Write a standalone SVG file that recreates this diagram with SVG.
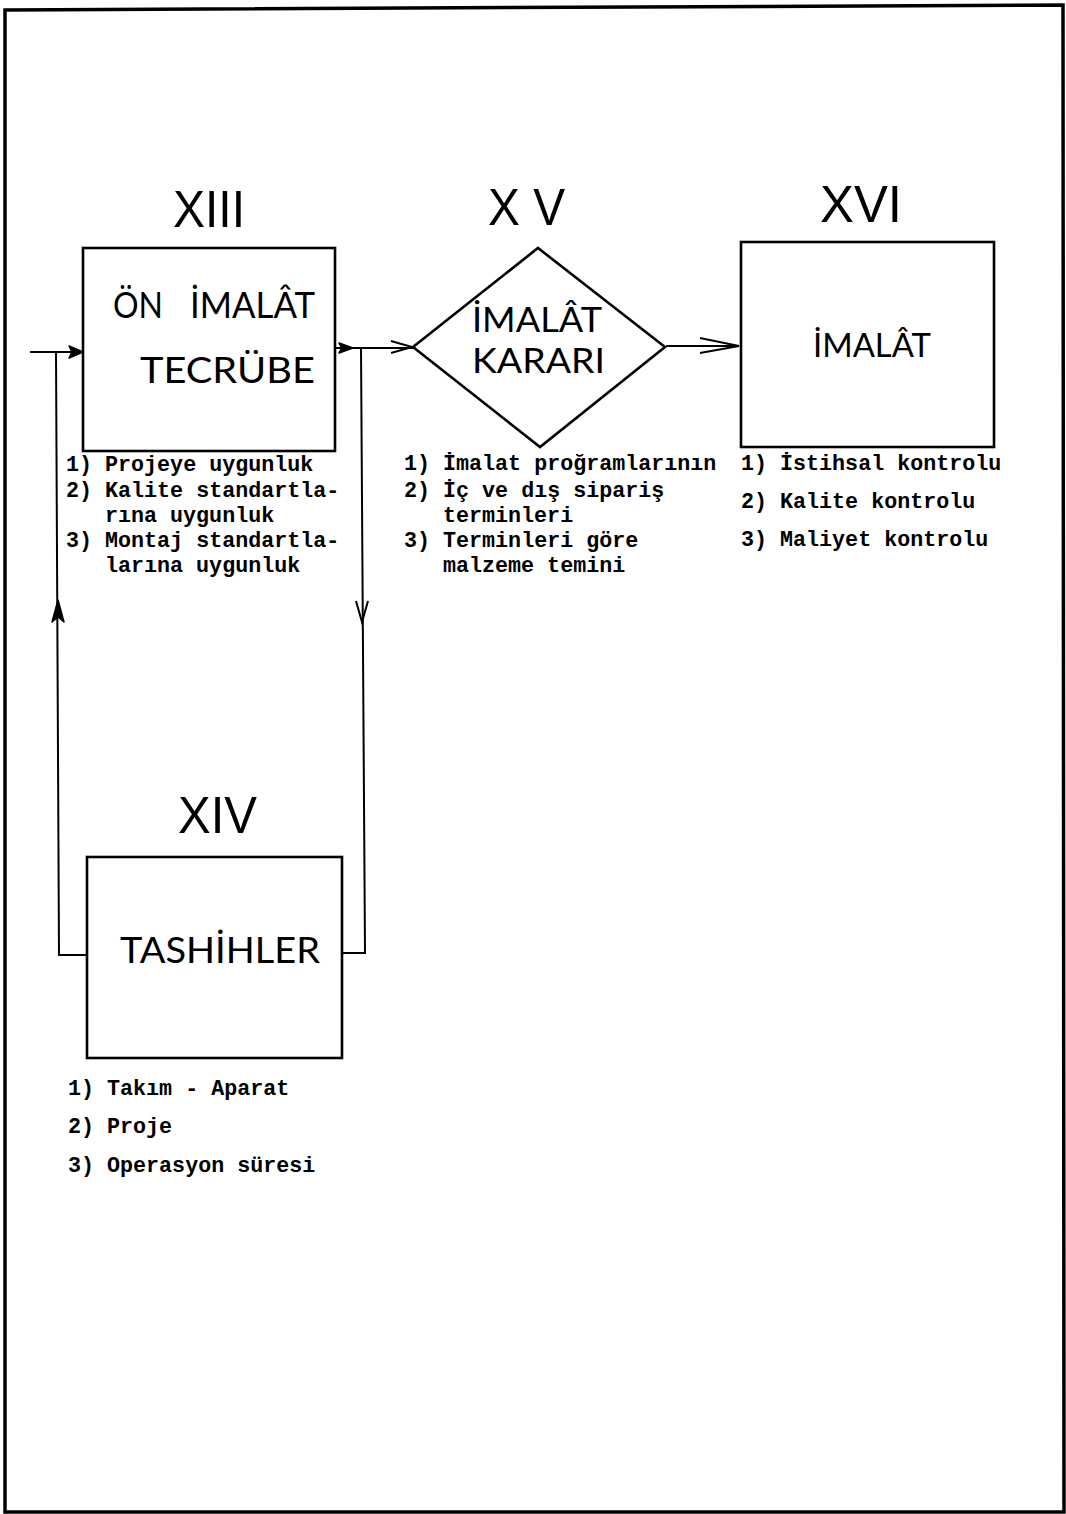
<svg xmlns="http://www.w3.org/2000/svg" width="1066" height="1514" viewBox="0 0 1066 1514">
<style>
.frame{fill:none;stroke:#000;stroke-width:3.5}
.box{fill:#fff;stroke:#000;stroke-width:2.6}
.line{fill:none;stroke:#000;stroke-width:2}
.head{fill:#000;stroke:#000;stroke-width:1.5;stroke-linejoin:round}
.chev{fill:none;stroke:#000;stroke-width:2;stroke-linejoin:miter}
.title{font-family:"Liberation Sans",Arial,sans-serif;font-size:52px;fill:#000}
.lbl{font-family:Lato,"Liberation Sans",Arial,sans-serif;font-weight:400;fill:#000}
.tw{font-family:"Liberation Mono","Courier New",monospace;font-size:21.7px;font-weight:bold;fill:#000}
</style>
<rect width="1066" height="1514" fill="#fff"/>
<path class="frame" d="M5 10 L1063 5 L1064 1512 L5 1512 Z"/>

<g id="connectors">
  <path class="line" d="M30 352 H83"/>
  <path class="head" d="M83 352 L69 346 L72 352 L69 358 Z"/>
  <path class="line" d="M56 352 L59 955 H87"/>
  <path class="head" d="M52 622 L58 600 L64 622 L58 617 Z"/>
  <path class="line" d="M335 348 H413"/>
  <path class="head" d="M353 348 L339 343 L342 348 L339 353 Z"/>
  <path class="chev" d="M391 341 L412 347 L391 353"/>
  <path class="line" d="M361 348 L365 953 H342"/>
  <path class="chev" d="M356 601 L362 622 L368 601"/>
  <path class="line" d="M666 346 H739"/>
  <path class="chev" d="M700 338 L739 346 L700 353"/>
</g>

<g id="node-xiii">
  <text class="title" x="173" y="227" textLength="72" lengthAdjust="spacingAndGlyphs">XIII</text>
  <rect class="box" x="83" y="248" width="252" height="203"/>
  <text class="lbl" font-size="36" y="318"><tspan x="113" textLength="50" lengthAdjust="spacingAndGlyphs">ÖN</tspan> <tspan x="190" textLength="125" lengthAdjust="spacingAndGlyphs">İMALÂT</tspan></text>
  <text class="lbl" font-size="37" x="140" y="383" textLength="175" lengthAdjust="spacingAndGlyphs">TECRÜBE</text>
  <text class="tw" xml:space="preserve" x="66" y="471">1) Projeye uygunluk</text>
  <text class="tw" xml:space="preserve" x="66" y="497">2) Kalite standartla-</text>
  <text class="tw" xml:space="preserve" x="105" y="522">rına uygunluk</text>
  <text class="tw" xml:space="preserve" x="66" y="547">3) Montaj standartla-</text>
  <text class="tw" xml:space="preserve" x="105" y="572">larına uygunluk</text>
</g>

<g id="node-xv">
  <text class="title" x="488" y="225" textLength="77" lengthAdjust="spacingAndGlyphs">X V</text>
  <path class="box" d="M538 248 L665 347 L540 447 L413 347 Z"/>
  <text class="lbl" font-size="34" x="472" y="332" textLength="130" lengthAdjust="spacingAndGlyphs">İMALÂT</text>
  <text class="lbl" font-size="34" x="472" y="373" textLength="133" lengthAdjust="spacingAndGlyphs">KARARI</text>
  <text class="tw" xml:space="preserve" x="404" y="470">1) İmalat proğramlarının</text>
  <text class="tw" xml:space="preserve" x="404" y="497">2) İç ve dış sipariş</text>
  <text class="tw" xml:space="preserve" x="443" y="522">terminleri</text>
  <text class="tw" xml:space="preserve" x="404" y="547">3) Terminleri göre</text>
  <text class="tw" xml:space="preserve" x="443" y="572">malzeme temini</text>
</g>

<g id="node-xvi">
  <text class="title" x="820" y="222" textLength="82" lengthAdjust="spacingAndGlyphs">XVI</text>
  <rect class="box" x="741" y="242" width="253" height="205"/>
  <text class="lbl" font-size="32" x="813" y="357" textLength="118" lengthAdjust="spacingAndGlyphs">İMALÂT</text>
  <text class="tw" xml:space="preserve" x="741" y="470">1) İstihsal kontrolu</text>
  <text class="tw" xml:space="preserve" x="741" y="508">2) Kalite kontrolu</text>
  <text class="tw" xml:space="preserve" x="741" y="546">3) Maliyet kontrolu</text>
</g>

<g id="node-xiv">
  <text class="title" x="178" y="833" textLength="79" lengthAdjust="spacingAndGlyphs">XIV</text>
  <rect class="box" x="87" y="857" width="255" height="201"/>
  <text class="lbl" font-size="37" x="120" y="963" textLength="200" lengthAdjust="spacingAndGlyphs">TASHİHLER</text>
  <text class="tw" xml:space="preserve" x="68" y="1095">1) Takım - Aparat</text>
  <text class="tw" xml:space="preserve" x="68" y="1133">2) Proje</text>
  <text class="tw" xml:space="preserve" x="68" y="1172">3) Operasyon süresi</text>
</g>
</svg>
